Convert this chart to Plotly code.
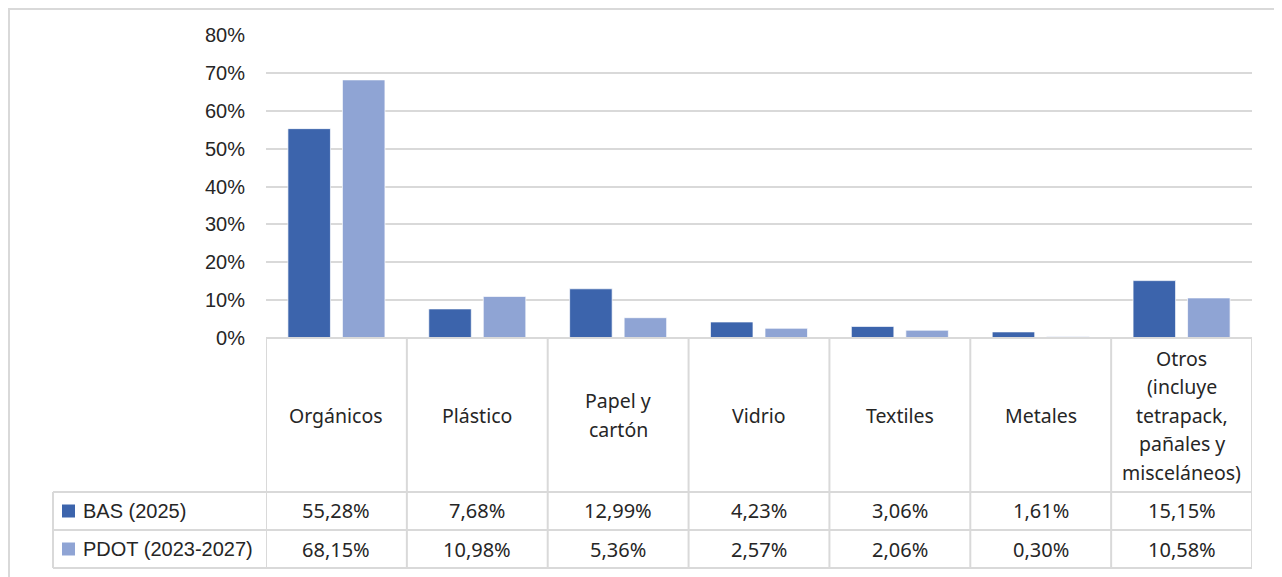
import plotly.graph_objects as go

categories = ["Orgánicos", "Plástico", "Papel y<br>cartón", "Vidrio", "Textiles", "Metales",
              "Otros<br>(incluye<br>tetrapack,<br>pañales y<br>misceláneos)"]
series_names = ["BAS (2025)", "PDOT (2023-2027)"]
bas_2025 = [55.28, 7.68, 12.99, 4.23, 3.06, 1.61, 15.15]
pdot_2023_2027 = [68.15, 10.98, 5.36, 2.57, 2.06, 0.30, 10.58]
y_ticks = [0, 10, 20, 30, 40, 50, 60, 70, 80]
colors = ["#3C64AC", "#8FA4D4"]

W, H = 1271, 569   # page body has an 8px margin
def px_x(x): return x / W
def px_y(y): return (H - y) / H

X0, X1 = 258, 1244          # plot area left/right
Y_TOP, Y_ZERO = 27, 330     # 80% and 0% gridlines
ROW_Y = [330, 484, 522, 560]
TABLE_LEFT = 45
LINE_STEP = 28.5            # header line spacing in px
GRID = "#D9D9D9"
TXT = "#262626"
head_font = dict(family="Noto Sans, Lato, sans-serif", size=19.5, color=TXT)
cell_font = dict(family="Noto Sans, Lato, sans-serif", size=20, color=TXT)
axis_font = dict(family="Liberation Sans, Arial, sans-serif", size=20, color=TXT)

def fmt(v):
    return f"{v:.2f}".replace(".", ",") + "%"

fig = go.Figure()
idx = list(range(len(categories)))
for name, vals, col in zip(series_names, [bas_2025, pdot_2023_2027], colors):
    fig.add_trace(go.Bar(x=idx, y=[v / 100 for v in vals], name=name,
                         marker=dict(color=col, line=dict(color="rgba(255,255,255,0.7)", width=1))))

shapes = []
annotations = []
# outer border
shapes.append(dict(type="rect", xref="paper", yref="paper", x0=px_x(1), x1=px_x(1270),
                   y0=px_y(H + 5), y1=px_y(1), line=dict(color=GRID, width=2)))
# table horizontal lines
for y in ROW_Y[1:]:
    shapes.append(dict(type="line", xref="paper", yref="paper", x0=px_x(TABLE_LEFT), x1=px_x(X1),
                       y0=px_y(y), y1=px_y(y), line=dict(color=GRID, width=2)))
shapes.append(dict(type="line", xref="paper", yref="paper", x0=px_x(X0), x1=px_x(X1),
                   y0=px_y(ROW_Y[0]), y1=px_y(ROW_Y[0]), line=dict(color=GRID, width=2)))
# vertical lines
shapes.append(dict(type="line", xref="paper", yref="paper", x0=px_x(TABLE_LEFT), x1=px_x(TABLE_LEFT),
                   y0=px_y(ROW_Y[1]), y1=px_y(ROW_Y[3]), line=dict(color=GRID, width=2)))
for i in range(len(categories) + 1):
    xb = i - 0.5
    shapes.append(dict(type="line", xref="x", yref="paper", x0=xb, x1=xb,
                       y0=px_y(ROW_Y[0]), y1=px_y(ROW_Y[3]), line=dict(color=GRID, width=2)))

# header text (each line placed separately for wider line spacing)
hc = (ROW_Y[0] + ROW_Y[1]) / 2
for i, c in enumerate(categories):
    lines = c.split("<br>")
    n = len(lines)
    for k, ln in enumerate(lines):
        yy = hc + (k - (n - 1) / 2) * LINE_STEP
        annotations.append(dict(x=i, y=px_y(yy), xref="x", yref="paper",
                                xanchor="center", yanchor="middle",
                                text=ln, showarrow=False, font=head_font))
# value rows
for r, (name, vals, col) in enumerate(zip(series_names, [bas_2025, pdot_2023_2027], colors)):
    yc = px_y((ROW_Y[r + 1] + ROW_Y[r + 2]) / 2)
    for i, v in enumerate(vals):
        annotations.append(dict(x=i, y=yc, xref="x", yref="paper", text=fmt(v),
                                xanchor="center", yanchor="middle",
                                showarrow=False, font=cell_font))
    shapes.append(dict(type="rect", xref="paper", yref="paper", x0=px_x(54), x1=px_x(67),
                       y0=yc - 6.5 / H, y1=yc + 6.5 / H, fillcolor=col, line=dict(width=0)))
    annotations.append(dict(x=px_x(73), y=yc, xref="paper", yref="paper", text=name,
                            showarrow=False, xanchor="left", yanchor="middle", font=axis_font))

fig.update_layout(
    width=W, height=H, margin=dict(l=0, r=0, t=0, b=0, autoexpand=False),
    paper_bgcolor="white", plot_bgcolor="white",
    showlegend=False, barmode="group", bargap=0.226, bargroupgap=0.22,
    shapes=shapes, annotations=annotations,
    xaxis=dict(domain=[px_x(X0), px_x(X1)], range=[-0.5, len(categories) - 0.5], automargin=False,
               showticklabels=False, showgrid=False, zeroline=False, showline=False),
    yaxis=dict(domain=[px_y(Y_ZERO), px_y(Y_TOP)], range=[0, 0.8], automargin=False,
               tickvals=[t / 100 for t in y_ticks], ticktext=[f"{t}%" for t in y_ticks],
               tickfont=axis_font, showgrid=True, gridcolor=GRID, gridwidth=2,
               zeroline=False, showline=False, ticks="", ticklabelstandoff=20),
)
fig.write_html("out.html")
